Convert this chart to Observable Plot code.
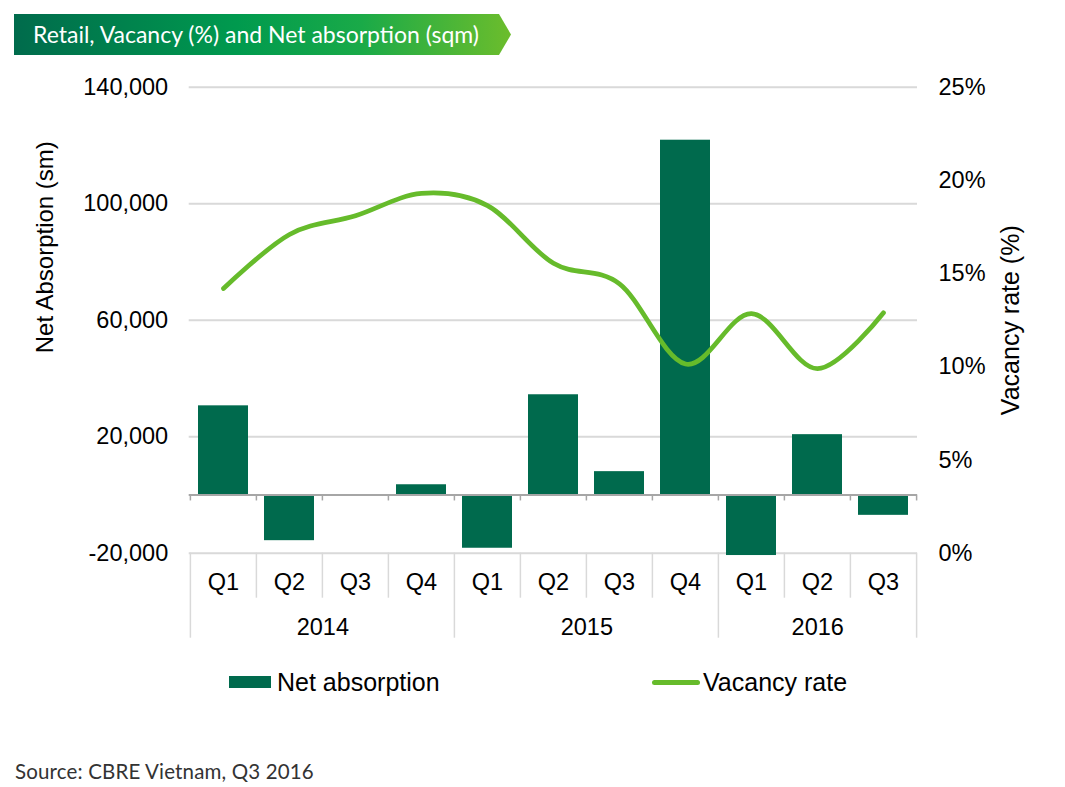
<!DOCTYPE html>
<html>
<head>
<meta charset="utf-8">
<script src="https://cdn.jsdelivr.net/npm/d3@7"></script>
<script src="https://cdn.jsdelivr.net/npm/@observablehq/plot@0.6"></script>
<style>
  body { margin: 0; background: #fff; }
  #wrap { position: relative; width: 1065px; height: 787px; overflow: hidden; font-family: "Liberation Sans", Arial, sans-serif; }
  #chart { position: absolute; left: 0; top: 0; }
  #banner { position: absolute; left: 14px; top: 14px; width: 497px; height: 41px;
    background: linear-gradient(90deg, #006b4c 0%, #009a4e 45%, #1aaa48 70%, #6cbd2c 100%);
    clip-path: polygon(0 0, 485px 0, 497px 50%, 485px 100%, 0 100%); }
  #banner span { position: absolute; left: 19px; top: 0; line-height: 41px; color: #fff; font-family: Lato, sans-serif; font-size: 23px; white-space: nowrap; }
  .sw-bar { position: absolute; left: 229px; top: 676px; width: 42px; height: 12px; background: #006a4d; }
  .sw-line { position: absolute; left: 652px; top: 680px; width: 48px; height: 5px; border-radius: 3px; background: #66bb2b; }
  .lt { position: absolute; top: 667px; font-size: 25px; line-height: 30px; color: #000; }
  #source { position: absolute; left: 15px; top: 759px; font-family: Lato, sans-serif; font-size: 20.5px; color: #333; letter-spacing: 0.15px; }
</style>
</head>
<body>
<div id="wrap">
  <div id="chart"></div>
  <div id="banner"><span>Retail, Vacancy (%) and Net absorption (sqm)</span></div>
  <div class="sw-bar"></div><div class="lt" style="left:277px">Net absorption</div>
  <div class="sw-line"></div><div class="lt" style="left:703px">Vacancy rate</div>
  <div id="source">Source: CBRE Vietnam, Q3 2016</div>
</div>
<script>
// ---- data ----
const quarters = ["Q1","Q2","Q3","Q4","Q1","Q2","Q3","Q4","Q1","Q2","Q3"];
const years = ["2014","2014","2014","2014","2015","2015","2015","2015","2016","2016","2016"];
const netAbsorption = [30600, -15700, -500, 3500, -18300, 34400, 8000, 121800, -20800, 20700, -7000];
const vacancyRate = [14.2, 17.1, 18.1, 19.3, 18.65, 15.55, 14.45, 10.15, 12.85, 9.9, 12.9];
const leftTicks = [-20000, 20000, 60000, 100000, 140000];
const rightTicks = [0, 5, 10, 15, 20, 25];

// ---- derived ----
const keys = quarters.map((q, i) => years[i] + " " + q);
const rows = keys.map((k, i) => ({key: k, q: quarters[i], year: years[i], net: netAbsorption[i], vac: vacancyRate[i]}));
const yMin = leftTicks[0], yMax = leftTicks[leftTicks.length - 1];
const rMax = rightTicks[rightTicks.length - 1];
const toLeft = v => yMin + v * (yMax - yMin) / rMax;
const fromLeft = d => (d - yMin) * rMax / (yMax - yMin);

const W = 1065, H = 660, ml = 188.7, mr = 148, mt = 86.7, mb = H - 552.7;
const step = (W - ml - mr) / keys.length;

const yearGroups = Array.from(d3.group(rows, d => d.year), ([year, arr]) => ({year, first: arr[0].key, n: arr.length}));
const yearStarts = yearGroups.map(g => g.first);
const sepColor = "#d9d9d9";
const FS = 23.5;

const chart = Plot.plot({
  width: W, height: H,
  marginLeft: ml, marginRight: mr, marginTop: mt, marginBottom: mb,
  x: {type: "band", domain: keys, paddingInner: 0.245, paddingOuter: 0.1225, axis: null},
  y: {domain: [yMin, yMax], axis: null},
  style: {fontFamily: "'Liberation Sans', Arial, sans-serif", fontSize: FS + "px", color: "#000", background: "white", overflow: "visible"},
  marks: [
    Plot.gridY(leftTicks.slice(1), {stroke: sepColor, strokeOpacity: 1, strokeWidth: 2}),
    Plot.ruleY([yMin], {stroke: sepColor, strokeWidth: 2}),
    Plot.barY(rows, {x: "key", y: "net", fill: "#006a4d"}),
    Plot.ruleY([0], {stroke: "#a6a6a6", strokeWidth: 2}),
    // small ticks on zero line at category boundaries
    Plot.ruleX(rows, {x: "key", y1: 0, y2: 0, insetBottom: -6, dx: -step / 2, stroke: "#a6a6a6", strokeWidth: 1.5}),
    Plot.ruleX([keys[keys.length - 1]], {x: d => d, y1: 0, y2: 0, insetBottom: -6, dx: step / 2, stroke: "#a6a6a6", strokeWidth: 1.5}),
    // category separators below the plot
    Plot.ruleX(rows.filter(d => !yearStarts.includes(d.key)), {x: "key", y1: yMin, y2: yMin, insetBottom: -45, dx: -step / 2, stroke: sepColor, strokeWidth: 1.5}),
    Plot.ruleX(yearStarts, {x: d => d, y1: yMin, y2: yMin, insetBottom: -85, dx: -step / 2, stroke: sepColor, strokeWidth: 1.5}),
    Plot.ruleX([keys[keys.length - 1]], {x: d => d, y1: yMin, y2: yMin, insetBottom: -85, dx: step / 2, stroke: sepColor, strokeWidth: 1.5}),
    // vacancy line
    Plot.line(rows, {x: "key", y: d => toLeft(d.vac), stroke: "#66bb2b", strokeWidth: 4.7, curve: "cardinal"}),
    // axes
    Plot.axisY(leftTicks, {anchor: "left", tickSize: 0, tickPadding: 21, tickFormat: d => d3.format(",")(d).replace("\u2212", "-"), label: null, fontSize: FS}),
    Plot.axisY(rightTicks.map(toLeft), {anchor: "right", tickSize: 0, tickPadding: 21, tickFormat: d => Math.round(fromLeft(d)) + "%", label: null, fontSize: FS}),
    Plot.text(["Net Absorption (sm)"], {frameAnchor: "left", rotate: -90, textAnchor: "middle", lineAnchor: "middle", dx: -144, dy: -73, fontSize: 24}),
    Plot.text(["Vacancy rate (%)"], {frameAnchor: "right", rotate: -90, textAnchor: "middle", lineAnchor: "middle", dx: 93, fontSize: 25}),
    // category labels
    Plot.text(rows, {x: "key", text: "q", frameAnchor: "bottom", lineAnchor: "middle", dy: 29, fontSize: FS}),
    ...yearGroups.map(g => Plot.text([g], {x: "first", text: "year", frameAnchor: "bottom", lineAnchor: "middle", dy: 74, dx: step * (g.n - 1) / 2, fontSize: FS}))
  ]
});
document.getElementById("chart").appendChild(chart);
</script>
</body>
</html>
